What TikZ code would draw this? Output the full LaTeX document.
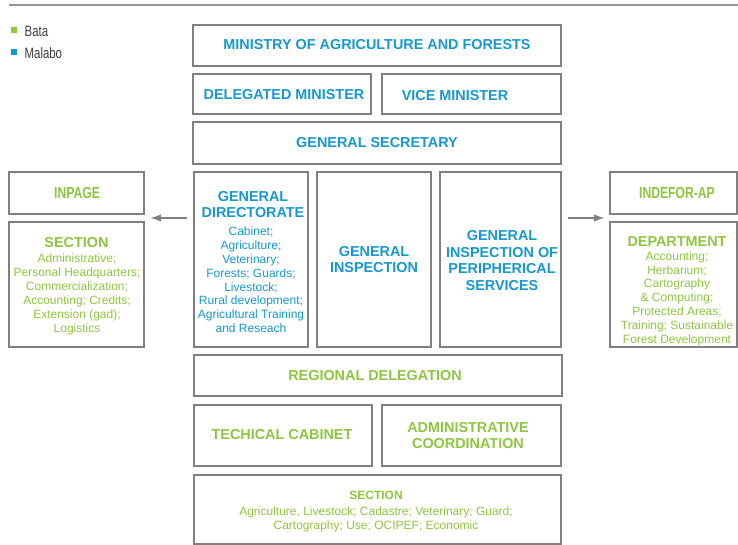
\documentclass[tikz,border=0pt]{standalone}
\usepackage{fontspec}
\setmainfont{Liberation Sans}
\newfontfamily\narrowfont[FakeStretch=0.76]{Liberation Sans}
\usetikzlibrary{arrows.meta}
\definecolor{bgreen}{RGB}{141,198,63}
\definecolor{mblue}{RGB}{22,152,206}
\definecolor{boxgray}{RGB}{128,128,128}
\definecolor{legtext}{RGB}{60,60,60}
\tikzset{
  orgbox/.style={draw=boxgray, line width=1.7pt, inner sep=0pt},
  bluehead/.style={text=mblue, align=center, font=\bfseries\fontsize{14.4}{16}\selectfont},
  greenhead/.style={text=bgreen, align=center, font=\bfseries\fontsize{14.4}{16}\selectfont},
  bodytext/.style={align=center, inner sep=0pt},
  legendtext/.style={anchor=west, text=legtext, font=\narrowfont\fontsize{15}{17}\selectfont, inner sep=0pt},
  conn/.style={draw=boxgray, line width=1.9pt, -{Latex[length=11pt,width=7.5pt]}},
}
\newcommand{\boxat}[5]{% name, x1, y1, x2, y2
  \node[orgbox, minimum width={#4-#2}, minimum height={#5-#3}] (#1) at ({(#2+#4)/2},{(#3+#5)/2}) {};}
\begin{document}
\begin{tikzpicture}[x=1pt,y=-1pt]
\useasboundingbox (0,0) rectangle (738,545);
% top rule
\draw[boxgray!85, line width=2.2pt] (9,5) -- (738,5);
% legend
\node[fill=bgreen, minimum size=6pt, inner sep=0pt] (lg) at (14.3,29.8) {};
\node[fill=mblue, minimum size=6pt, inner sep=0pt] (lb) at (14.3,51.8) {};
\node[legendtext] (lgt) at (24.5,31) {Bata};
\node[legendtext] (lbt) at (24.5,53) {Malabo};
% boxes
\boxat{min}{193}{25}{561}{66}
\node[bluehead] (mint) at (377,44.5) {MINISTRY OF AGRICULTURE AND FORESTS};
\boxat{del}{193}{74}{371}{114}
\node[bluehead] (delt) at (284,95) {DELEGATED MINISTER};
\boxat{vice}{382}{74}{561}{114}
\node[bluehead] (vicet) at (455,95.5) {VICE MINISTER};
\boxat{sec}{193}{122}{561}{164}
\node[bluehead] (sect) at (sec.center) {GENERAL SECRETARY};
\boxat{gd}{194}{172}{308}{347}
\node[bluehead] (gdh) at (253,205) {GENERAL\\ DIRECTORATE};
\node[bodytext, text=mblue, font=\fontsize{12}{13.8}\selectfont] (gdt) at (251,280) {Cabinet;\\ Agriculture;\\ Veterinary;\\ Forests; Guards;\\ Livestock;\\ Rural development;\\ Agricultural Training\\ and Reseach};
\boxat{gi}{317}{172}{431}{347}
\node[bluehead] (git) at (374,260) {GENERAL\\ INSPECTION};
\boxat{gips}{440}{172}{561}{347}
\node[bluehead, font=\bfseries\fontsize{14.4}{16.4}\selectfont] (gipst) at (502,260.5) {GENERAL\\ INSPECTION OF\\ PERIPHERICAL\\ SERVICES};
% left
\boxat{inpage}{9}{172}{144}{214}
\node[text=bgreen, font=\narrowfont\bfseries\fontsize{16}{18}\selectfont] (inpaget) at (77,193) {INPAGE};
\boxat{lsec}{9}{222}{144}{347}
\node[greenhead] (lsech) at (76.5,243) {SECTION};
\node[bodytext, text=bgreen, font=\fontsize{12}{14}\selectfont] (lsect) at (77,294) {Administrative;\\ Personal Headquarters;\\ Commercialization;\\ Accounting; Credits;\\ Extension (gad);\\ Logistics};
% right
\boxat{indefor}{610}{172}{737}{214}
\node[text=bgreen, font=\narrowfont\bfseries\fontsize{16}{18}\selectfont] (indefort) at (677,193) {INDEFOR-AP};
\boxat{dep}{610}{222}{737}{347}
\node[greenhead] (deph) at (677,242) {DEPARTMENT};
\node[bodytext, text=bgreen, font=\fontsize{12}{13.8}\selectfont] (dept) at (677,298.5) {Accounting;\\ Herbarium;\\ Cartography\\ \& Computing;\\ Protected Areas;\\ Training; Sustainable\\ Forest Development};
% lower
\boxat{reg}{194}{355}{562}{396}
\node[greenhead] (regt) at (375,376) {REGIONAL DELEGATION};
\boxat{tech}{194}{405}{372}{466}
\node[greenhead] (techt) at (282,435) {TECHICAL CABINET};
\boxat{adm}{382}{405}{561}{466}
\node[greenhead] (admt) at (468,436) {ADMINISTRATIVE\\ COORDINATION};
\boxat{bsec}{194}{475}{561}{544}
\node[greenhead, font=\bfseries\fontsize{12}{14}\selectfont] (bsech) at (376,495) {SECTION};
\node[bodytext, text=bgreen, font=\fontsize{12}{13.5}\selectfont] (bsect) at (376,519.5) {Agriculture, Livestock; Cadastre; Veterinary; Guard;\\ Cartography; Use; OCIPEF; Economic};
% arrows
\coordinate (la) at (187,218);
\coordinate (lz) at (150,218);
\coordinate (ra) at (568,218);
\coordinate (rz) at (605,218);
\draw[conn] (la) -- (lz);
\draw[conn] (ra) -- (rz);
\end{tikzpicture}
\end{document}
